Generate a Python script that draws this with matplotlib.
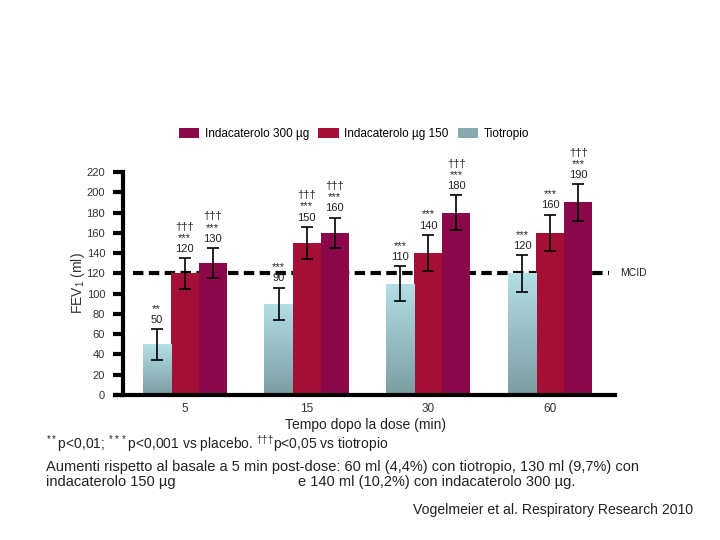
import matplotlib
matplotlib.use('Agg')
import matplotlib.pyplot as plt
import numpy as np
from matplotlib.patches import Patch
from matplotlib.colors import LinearSegmentedColormap

plt.rcParams['font.family'] = ['Liberation Sans', 'DejaVu Sans']
plt.rcParams['mathtext.fontset'] = 'custom'
plt.rcParams['mathtext.rm'] = 'Liberation Sans'

# data
times = ['5', '15', '30', '60']
tiotropio = [50, 90, 110, 120]
tiotropio_err = [15, 16, 17, 18]
ind150 = [120, 150, 140, 160]
ind150_err = [15, 16, 18, 18]
ind300 = [130, 160, 180, 190]
ind300_err = [15, 15, 17, 18]
tiotropio_sig = ['**', '***', '***', '***']
ind150_sig = ['†††\n***', '†††\n***', '***', '***']
ind300_sig = ['†††\n***', '†††\n***', '†††\n***', '†††\n***']
mcid = 120

col_150 = '#a40f35'
col_300 = '#8a0749'
col_tio = '#86aab0'
tio_cmap = LinearSegmentedColormap.from_list('tio', ['#7b9da2', '#b3dfe5'])
txt_col = '#222222'

fig = plt.figure(figsize=(7.2, 5.4), dpi=100)
ax = fig.add_axes([0.160, 0.2685, 0.694, 0.413])

x = np.arange(len(times))
w = 0.23

ax.plot([-0.42, 3.48], [mcid, mcid], color='black', lw=3, ls=(0, (2.5, 1.3)), zorder=1, clip_on=False)

bars_tio = ax.bar(x - w, tiotropio, w, color=col_tio, zorder=2)
bars_150 = ax.bar(x, ind150, w, color=col_150, zorder=2)
bars_300 = ax.bar(x + w, ind300, w, color=col_300, zorder=2)

# gradient fill for tiotropio bars
grad = np.linspace(0, 1, 100).reshape(-1, 1)
for b in bars_tio:
    x0, y0 = b.get_x(), b.get_y()
    im = ax.imshow(grad, cmap=tio_cmap, origin='lower', aspect='auto',
                   extent=[x0, x0 + b.get_width(), y0, y0 + b.get_height()], zorder=2.5)
    im.set_clip_path(b)

for xs, vals, errs in [(x - w, tiotropio, tiotropio_err), (x, ind150, ind150_err), (x + w, ind300, ind300_err)]:
    ax.errorbar(xs, vals, yerr=errs, fmt='none', ecolor='black', elinewidth=1.2,
                capsize=4, capthick=1.2, zorder=3)

for xs, vals, errs, sigs in [(x - w, tiotropio, tiotropio_err, tiotropio_sig),
                             (x, ind150, ind150_err, ind150_sig),
                             (x + w, ind300, ind300_err, ind300_sig)]:
    for xi, v, e, s in zip(xs, vals, errs, sigs):
        ax.annotate(f'{s}\n{v}', xy=(xi, v + e), xytext=(0, 3), textcoords='offset points',
                    ha='center', va='bottom', fontsize=8, color=txt_col, linespacing=1.15)

ax.text(3.57, mcid, 'MCID', fontsize=7.5, color=txt_col, va='center', ha='left')

ax.set_xlim(-0.57, 3.53)
ax.set_ylim(0, 220)
ax.set_yticks(np.arange(0, 221, 20))
ax.set_xticks(x)
ax.set_xticklabels(times)
ax.tick_params(axis='y', direction='out', length=7, width=3, labelsize=8, labelcolor='#333333', pad=6)
ax.tick_params(axis='x', length=0, labelsize=8.5, labelcolor='#333333', pad=6)
for s in ['top', 'right']:
    ax.spines[s].set_visible(False)
ax.spines['left'].set_position(('axes', 0.016))
ax.spines['left'].set_linewidth(3)
ax.spines['bottom'].set_linewidth(3)
ax.set_ylabel('FEV$_1$ (ml)', fontsize=10, color='#333333', labelpad=0)
ax.set_xlabel('Tempo dopo la dose (min)', fontsize=10, color=txt_col, labelpad=2)

handles = [Patch(facecolor=col_300), Patch(facecolor=col_150), Patch(facecolor=col_tio)]
fig.legend(handles, ['Indacaterolo 300 µg', 'Indacaterolo µg 150', 'Tiotropio'],
           loc='center', bbox_to_anchor=(0.492, 0.752), ncol=3, frameon=False,
           fontsize=8.5, handlelength=1.7, handleheight=0.9, columnspacing=0.8,
           handletextpad=0.5)

fig.text(0.064, 0.178, r'$^{**}$p<0,01; $^{***}$p<0,001 vs placebo. $^{\dag\dag\dag}$p<0,05 vs tiotropio',
         fontsize=10, color=txt_col, va='center')
fig.text(0.064, 0.135, 'Aumenti rispetto al basale a 5 min post-dose: 60 ml (4,4%) con tiotropio, 130 ml (9,7%) con',
         fontsize=10.5, color=txt_col, va='center')
fig.text(0.064, 0.107, 'indacaterolo 150 µg', fontsize=10.5, color=txt_col, va='center')
fig.text(0.414, 0.107, 'e 140 ml (10,2%) con indacaterolo 300 µg.', fontsize=10.5, color=txt_col, va='center')
fig.text(0.963, 0.056, 'Vogelmeier et al. Respiratory Research 2010', fontsize=10.1, color=txt_col,
         va='center', ha='right')

fig.savefig('out.png', dpi=100, facecolor='white')
